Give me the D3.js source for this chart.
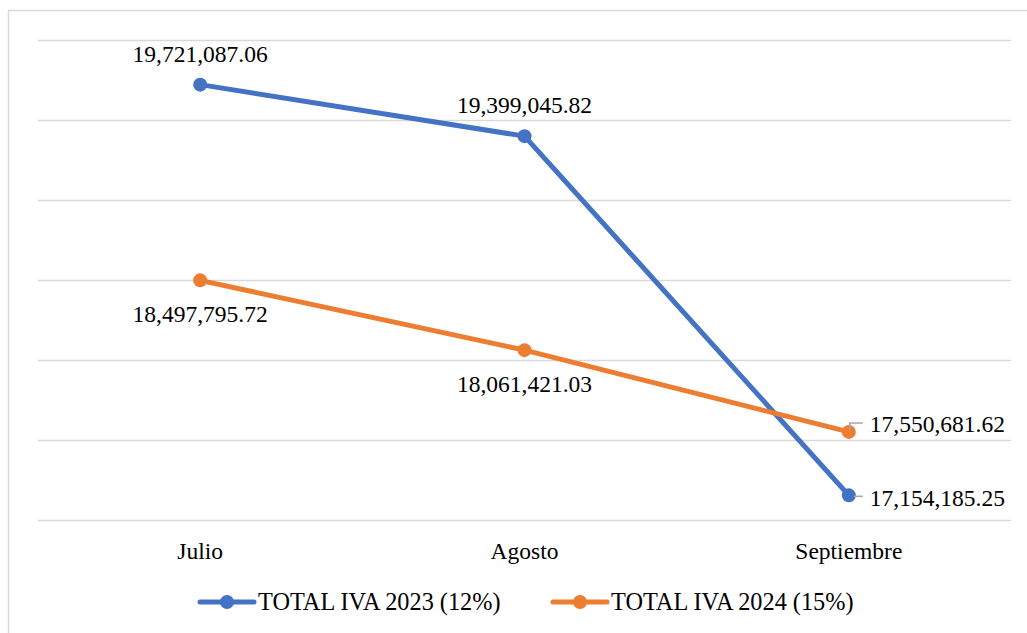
<!DOCTYPE html>
<html>
<head>
<meta charset="utf-8">
<script src="https://d3js.org/d3.v7.min.js"></script>
<style>
  body { margin:0; background:#fff; }
  text { font-family: "Liberation Serif", "Times New Roman", serif; fill:#000; }
</style>
</head>
<body>
<script>
var categories = ["Julio", "Agosto", "Septiembre"];
var iva2023 = [19721087.06, 19399045.82, 17154185.25];
var iva2024 = [18497795.72, 18061421.03, 17550681.62];
var seriesNames = ["TOTAL IVA 2023 (12%)", "TOTAL IVA 2024 (15%)"];
var colors = ["#4472C4", "#ED7D31"];

var W = 1027, H = 633;
var FS = 23.5;
var svg = d3.select("body").append("svg").attr("width", W).attr("height", H);

// chart border
svg.append("rect")
      .attr("x", 8.5).attr("y", 10.5)
      .attr("width", W).attr("height", H)
      .attr("fill", "none")
      .attr("stroke", "#d9d9d9")
      .attr("stroke-width", 1.5);

var x = d3.scaleBand().domain(categories).range([38, 1011]);
var y = d3.scaleLinear().domain([17000000, 20000000]).range([520, 40]);

// gridlines
svg.append("g")
      .attr("transform", "translate(38,0)")
      .call(d3.axisLeft(y).tickValues(d3.range(17000000, 20000001, 500000)).tickSize(-973).tickFormat(""))
      .call(function(g){
            g.select(".domain").remove();
            g.selectAll("line").attr("stroke", "#d9d9d9").attr("stroke-width", 1.5);
      });

// category labels
svg.append("g")
      .attr("transform", "translate(0,520)")
      .call(d3.axisBottom(x).tickSize(0).tickPadding(0))
      .call(function(g){
            g.select(".domain").remove();
            g.selectAll("text")
                  .attr("dy", null)
                  .attr("y", 39)
                  .attr("font-size", FS)
                  .attr("font-family", "Liberation Serif");
      });

var cx = function(d,i){ return x(categories[i]) + x.bandwidth()/2; };
var fmt = d3.format(",.2f");

var allSeries = [iva2023, iva2024];
var line = d3.line().x(function(d,i){ return cx(d,i); }).y(function(d){ return y(d); });

allSeries.forEach(function(s, k){
      svg.append("path")
            .datum(s)
            .attr("d", line)
            .attr("fill", "none")
            .attr("stroke", colors[k])
            .attr("stroke-width", 5)
            .attr("stroke-linejoin", "round");
});

allSeries.forEach(function(s, k){
      svg.selectAll("circle.s" + k)
            .data(s)
            .enter().append("circle")
                  .attr("class", "s" + k)
                  .attr("cx", cx)
                  .attr("cy", function(d){ return y(d); })
                  .attr("r", 7)
                  .attr("fill", colors[k]);
});

// data labels: position per point (dx, dy relative to point, anchor)
var labelPos = [
      [[0, -23, "middle"], [0, -23, "middle"], [21, 11, "start"]],
      [[0, 42, "middle"], [0, 42, "middle"], [21, 0, "start"]]
];

allSeries.forEach(function(s, k){
      svg.selectAll("text.l" + k)
            .data(s)
            .enter().append("text")
                  .attr("class", "l" + k)
                  .attr("x", function(d,i){ return cx(d,i) + labelPos[k][i][0]; })
                  .attr("y", function(d,i){ return y(d) + labelPos[k][i][1]; })
                  .attr("text-anchor", function(d,i){ return labelPos[k][i][2]; })
                  .attr("font-size", FS)
                  .text(function(d){ return fmt(d); });
});

// leader lines for Septiembre labels
var lx = cx(null, 2);
svg.append("path")
      .attr("d", "M" + (lx + 1) + "," + (y(iva2024[2]) - 2) + "V" + (y(iva2024[2]) - 9) + "H" + (lx + 14))
      .attr("fill", "none").attr("stroke", "#a6a6a6").attr("stroke-width", 1.5);
svg.append("line")
      .attr("x1", lx + 5).attr("x2", lx + 14)
      .attr("y1", y(iva2023[2]) + 1).attr("y2", y(iva2023[2]) + 1)
      .attr("stroke", "#a6a6a6").attr("stroke-width", 1.5);

// legend
var legendX = [200, 553];
seriesNames.forEach(function(name, k){
      var g = svg.append("g").attr("transform", "translate(" + legendX[k] + ",602)");
      g.append("line").attr("x1", 0).attr("x2", 54).attr("y1", 0).attr("y2", 0)
            .attr("stroke", colors[k]).attr("stroke-width", 5).attr("stroke-linecap", "round");
      g.append("circle").attr("cx", 27).attr("cy", 0).attr("r", 7).attr("fill", colors[k]);
      g.append("text").attr("x", 58).attr("y", 8).attr("font-size", 24.3).text(name);
});
</script>
</body>
</html>
